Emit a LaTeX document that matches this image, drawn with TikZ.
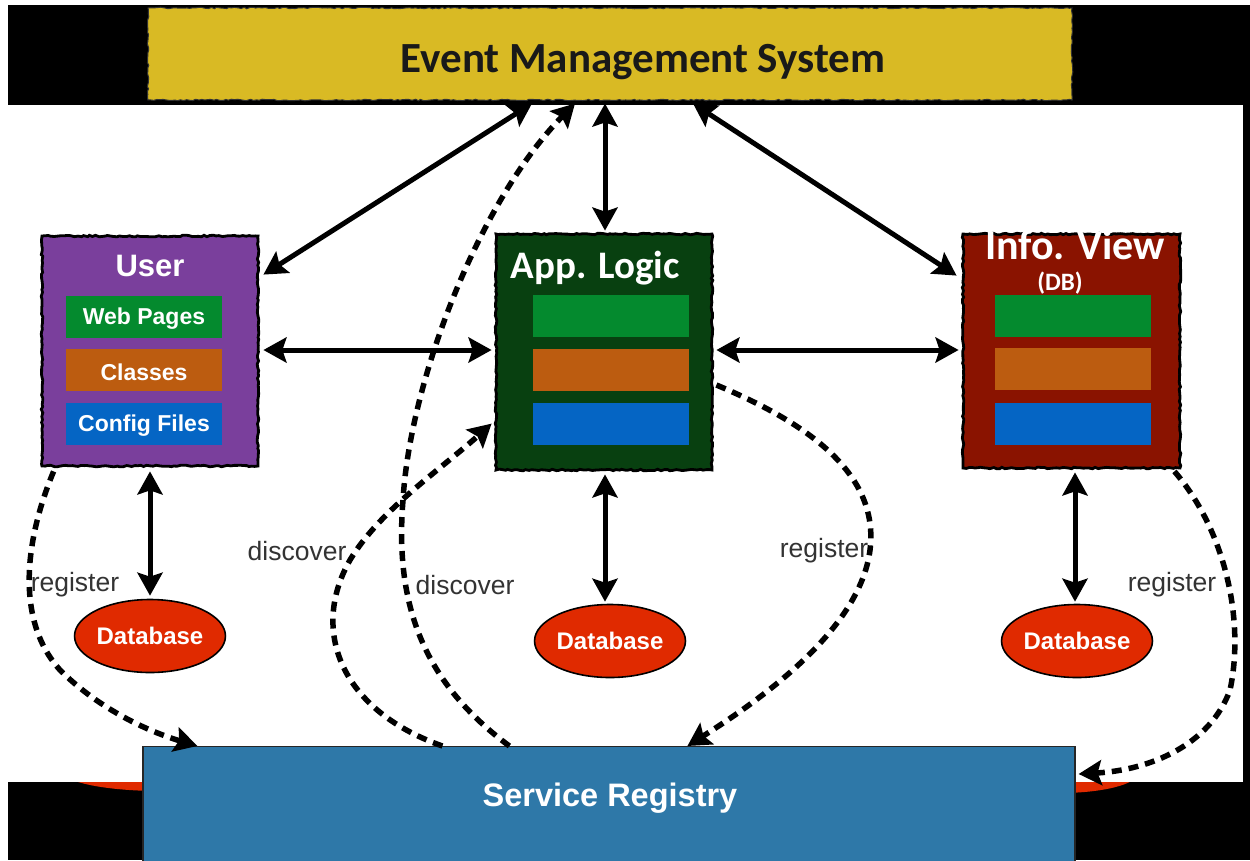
\documentclass[tikz,border=0pt]{standalone}
\usepackage{fontspec}
\setmainfont{Liberation Sans}
\newfontfamily\calibri{Carlito}
\usetikzlibrary{arrows.meta,decorations.pathmorphing,calc,shapes.geometric}

\definecolor{emsyellow}{HTML}{D9BA24}
\definecolor{userpurple}{HTML}{7A3F9C}
\definecolor{appgreen}{HTML}{084010}
\definecolor{infored}{HTML}{8A1300}
\definecolor{subgreen}{HTML}{048A2E}
\definecolor{suborange}{HTML}{BC5C10}
\definecolor{subblue}{HTML}{0565C4}
\definecolor{dbred}{HTML}{E02A00}
\definecolor{srblue}{HTML}{2E78A8}
\definecolor{labelgray}{HTML}{333333}

\begin{document}
\begin{tikzpicture}[x=1pt,y=-1pt,
  rough/.style={decorate,decoration={random steps,segment length=3pt,amplitude=0.8pt}},
  container/.style={rough,draw=black,line width=2.8pt,inner sep=0pt,minimum width=216pt},
  subbox/.style={fill=#1,inner sep=0pt,minimum width=156pt,minimum height=42pt},
  subtext/.style={text=white,inner sep=0pt,font=\bfseries\fontsize{23}{26}\selectfont},
  title/.style={text=white,inner sep=0pt,font=\bfseries\fontsize{31}{34}\selectfont},
  ctitle/.style={text=white,inner sep=0pt,font=\calibri\bfseries\fontsize{39}{42}\selectfont},
  database/.style={ellipse,fill=dbred,draw=black,line width=1.6pt,inner sep=0pt,
    minimum width=147pt,minimum height=73pt,text=white,font=\bfseries\fontsize{24}{27}\selectfont},
  biarrow/.style={line width=5pt,{Stealth[length=23pt,width=25pt,inset=4pt]}-{Stealth[length=23pt,width=25pt,inset=4pt]}},
  dasharrow/.style={line width=5.5pt,dash pattern=on 10pt off 7pt,-{Stealth[length=23pt,width=25pt,inset=4pt]}},
  edgelabel/.style={text=labelgray,inner sep=0pt,font=\fontsize{26.5}{29}\selectfont}
]
\useasboundingbox (0,0) rectangle (1250,860);

% page background and black frame strips
\fill[white] (0,0) rectangle (1250,860);
\fill[black] (8,5) rectangle (1250,105);
\fill[black] (1243,105) rectangle (1250,782);
\fill[black] (8,782) rectangle (1250,860);

% red database shapes peeking out below the registry
\begin{scope}
  \clip (8,782) rectangle (1250,860);
  \fill[dbred] (160,771) ellipse [x radius=98pt, y radius=20pt];
  \fill[dbred] (1060,773) ellipse [x radius=78pt, y radius=20pt];
\end{scope}

% top system box
\node[rough,fill=emsyellow,draw=black!80,line width=1pt,inner sep=0pt,
  minimum width=924pt,minimum height=92pt] (ems) at (610,54) {};
\node[inner sep=0pt,text=black!90,font=\calibri\bfseries\fontsize{43}{46}\selectfont]
  (emslabel) at (643,62) {Event Management System};

% User component
\node[container,fill=userpurple,minimum height=230pt] (user) at (150,351) {};
\node[title] (usertitle) at (150,266) {User};
\node[subbox=subgreen] (u1) at (144,317) {};
\node[subbox=suborange] (u2) at (144,370) {};
\node[subbox=subblue] (u3) at (144,424) {};
\node[subtext] (u1t) at ([yshift=-2pt]u1.center) {Web Pages};
\node[subtext] (u2t) at ([yshift=-2pt]u2.center) {Classes};
\node[subtext] (u3t) at ([yshift=-2pt]u3.center) {Config Files};

% App. Logic component
\node[container,fill=appgreen,minimum height=236pt] (app) at (604,352) {};
\node[subbox=subgreen] (a1) at (611,315.5) {};
\node[subbox=suborange] (a2) at (611,369.5) {};
\node[subbox=subblue] (a3) at (611,423.5) {};
\node[ctitle] (apptitle) at (595,268) {App. Logic};

% Info. View component
\node[container,fill=infored,minimum height=234pt,minimum width=217pt] (info) at (1071.5,351) {};
\node[subbox=subgreen] (i1) at (1073,315.5) {};
\node[subbox=suborange] (i2) at (1073,369) {};
\node[subbox=subblue] (i3) at (1073,423.5) {};
\node[ctitle,font=\calibri\bfseries\fontsize{42}{45}\selectfont] (infotitle) at (1075,245) {Info. View};
\node[text=white,inner sep=0pt,font=\calibri\bfseries\fontsize{25}{28}\selectfont] (infodb) at (1060,283) {(DB)};

% databases
\node[database] (db1) at (150,636) {Database};
\node[database] (db2) at (610,641) {Database};
\node[database] (db3) at (1077,641) {Database};

% service registry
\node[fill=srblue,draw=black!85,line width=1.2pt,inner sep=0pt,
  minimum width=932pt,minimum height=124pt,anchor=north] (sr) at (609,746) {};
\node[text=white,inner sep=0pt,font=\bfseries\fontsize{32.5}{35}\selectfont] (srlabel) at (610,798) {Service Registry};

% solid two-way links
\draw[biarrow] ([xshift=-78pt,yshift=-3pt]ems.south) -- ([xshift=4pt,yshift=-40pt]user.north east);
\draw[biarrow] ([xshift=-5pt,yshift=-3pt]ems.south) -- ([xshift=1pt,yshift=2pt]app.north);
\draw[biarrow] ([xshift=83pt,yshift=-3pt]ems.south) -- ([xshift=-5pt,yshift=-43pt]info.north west);
\draw[biarrow] ([xshift=4pt,yshift=1pt]user.east) -- ([xshift=-3pt,yshift=2pt]app.west);
\draw[biarrow] ([xshift=3pt,yshift=2pt]app.east) -- ([xshift=-3pt,yshift=1pt]info.west);
\draw[biarrow] ([yshift=-4pt]user.south) -- ([yshift=3pt]db1.north);
\draw[biarrow] ([xshift=1pt,yshift=-3pt]app.south) -- ([xshift=-5pt,yshift=2pt]db2.north);
\draw[biarrow] ([xshift=3.5pt,yshift=-3pt]info.south) -- ([xshift=-2pt,yshift=2pt]db3.north);

% dashed register / discover links
\draw[dasharrow] ([xshift=13pt,yshift=-4pt]user.south west)
  .. controls (25,540) and (15,620) .. (60,670)
  .. controls (100,710) and (150,732) .. ([xshift=55pt]sr.north west);
\draw[dasharrow] ([xshift=300pt]sr.north west)
  .. controls (340,710) and (310,630) .. (350,560)
  .. controls (380,510) and (440,470) .. ([xshift=-3pt,yshift=-191pt]app.north west);
\draw[dasharrow] ([xshift=367pt]sr.north west)
  .. controls (420,680) and (395,600) .. (403,500)
  .. controls (410,380) and (480,200) .. ([xshift=-35pt,yshift=-3pt]ems.south);
\draw[dasharrow] ([xshift=3pt,yshift=-33pt]app.east)
  .. controls (800,420) and (880,470) .. (870,550)
  .. controls (860,630) and (760,700) .. ([xshift=545pt]sr.north west);
\draw[dasharrow] ([xshift=-7pt,yshift=-2pt]info.south east)
  .. controls (1225,530) and (1245,620) .. (1230,690)
  .. controls (1210,745) and (1150,770) .. ([xshift=3pt,yshift=-28pt]sr.north east);

% link labels
\node[edgelabel] (lreg1) at (75,585) {register};
\node[edgelabel] (ldisc1) at (297,551) {discover};
\node[edgelabel] (ldisc2) at (465,585) {discover};
\node[edgelabel] (lreg2) at (824,551) {register};
\node[edgelabel] (lreg3) at (1172,585) {register};
\end{tikzpicture}
\end{document}
